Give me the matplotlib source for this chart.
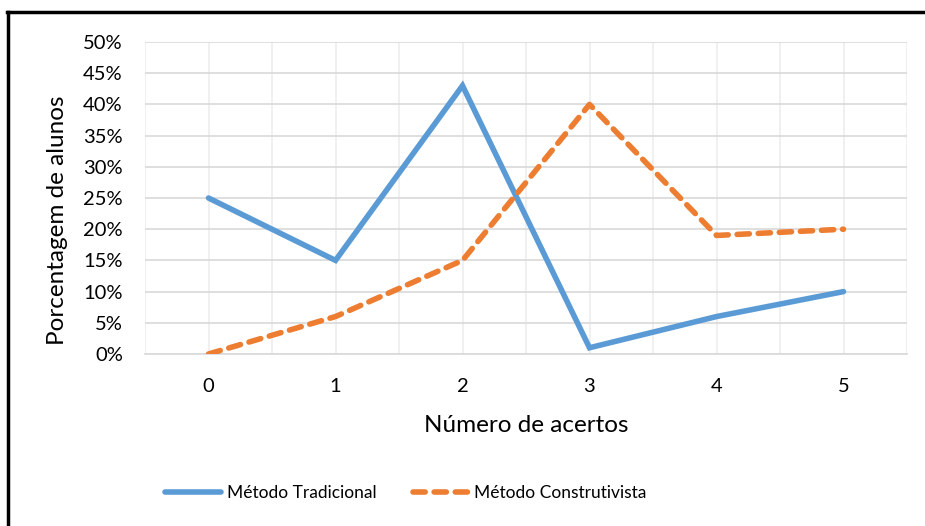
import matplotlib.pyplot as plt
from matplotlib.lines import Line2D
from matplotlib.ticker import PercentFormatter, MultipleLocator

plt.rcParams['font.family'] = ['Lato', 'DejaVu Sans']

# número de acertos e porcentagem de alunos por método
acertos = [0, 1, 2, 3, 4, 5]
tradicional = [25, 15, 43, 1, 6, 10]
construtivista = [0, 6, 15, 40, 19, 20]

azul = "#5B9BD5"
laranja = "#ED7D31"
grade = "#D9D9D9"

W, H = 925, 526
fig = plt.figure(figsize=(W / 100, H / 100), dpi=100)
fig.patch.set_facecolor("white")

# área do gráfico em pixels: x 145-907, y 42-354
ax = fig.add_axes([145 / W, 1 - 354 / H, (907 - 145) / W, (354 - 42) / H])

ax.plot(acertos, tradicional, color=azul, lw=4, solid_capstyle="round",
        solid_joinstyle="miter", label="Método Tradicional", zorder=3)
ax.plot(acertos, construtivista, color=laranja, lw=4, ls=(0, (2.2, 1.6)),
        dash_capstyle="round", label="Método Construtivista", zorder=3)

ax.set_xlim(-0.5, 5.5)
ax.set_ylim(0, 50)
ax.yaxis.set_major_locator(MultipleLocator(5))
ax.yaxis.set_major_formatter(PercentFormatter(decimals=0))
ax.set_xticks(acertos)
ax.xaxis.set_minor_locator(MultipleLocator(0.5))

ax.grid(True, which="both", axis="x", color="#EDEDED", lw=1.2)
ax.grid(True, which="major", axis="y", color=grade, lw=1.2)
ax.set_axisbelow(True)
for s in ["top", "right", "left"]:
    ax.spines[s].set_visible(False)
ax.spines["bottom"].set_color(grade)
ax.spines["bottom"].set_linewidth(1.2)
ax.tick_params(which="both", length=0)
ax.tick_params(axis="y", labelsize=14.5, pad=16, labelcolor="black")
ax.tick_params(axis="x", labelsize=14.5, pad=17, labelcolor="black")

fig.text(58 / W, 1 - 220 / H, "Porcentagem de alunos", rotation=90,
         ha="center", va="center", fontsize=17.5)
fig.text(526 / W, 1 - 426 / H, "Número de acertos",
         ha="center", va="center", fontsize=17.5)

fig.legend(loc="center", bbox_to_anchor=(406 / W, 1 - 493 / H), ncol=2,
           frameon=False, fontsize=12.5, handlelength=3.2, columnspacing=2.1,
           handletextpad=0.35)

# moldura (topo e lateral esquerda)
fig.add_artist(Line2D([7 / W, 1], [1 - 12 / H, 1 - 12 / H],
                      transform=fig.transFigure, color="black", lw=2.5))
fig.add_artist(Line2D([8 / W, 8 / W], [0, 1 - 12 / H],
                      transform=fig.transFigure, color="black", lw=2.5))

fig.savefig("out.png", dpi=100, facecolor="white")
